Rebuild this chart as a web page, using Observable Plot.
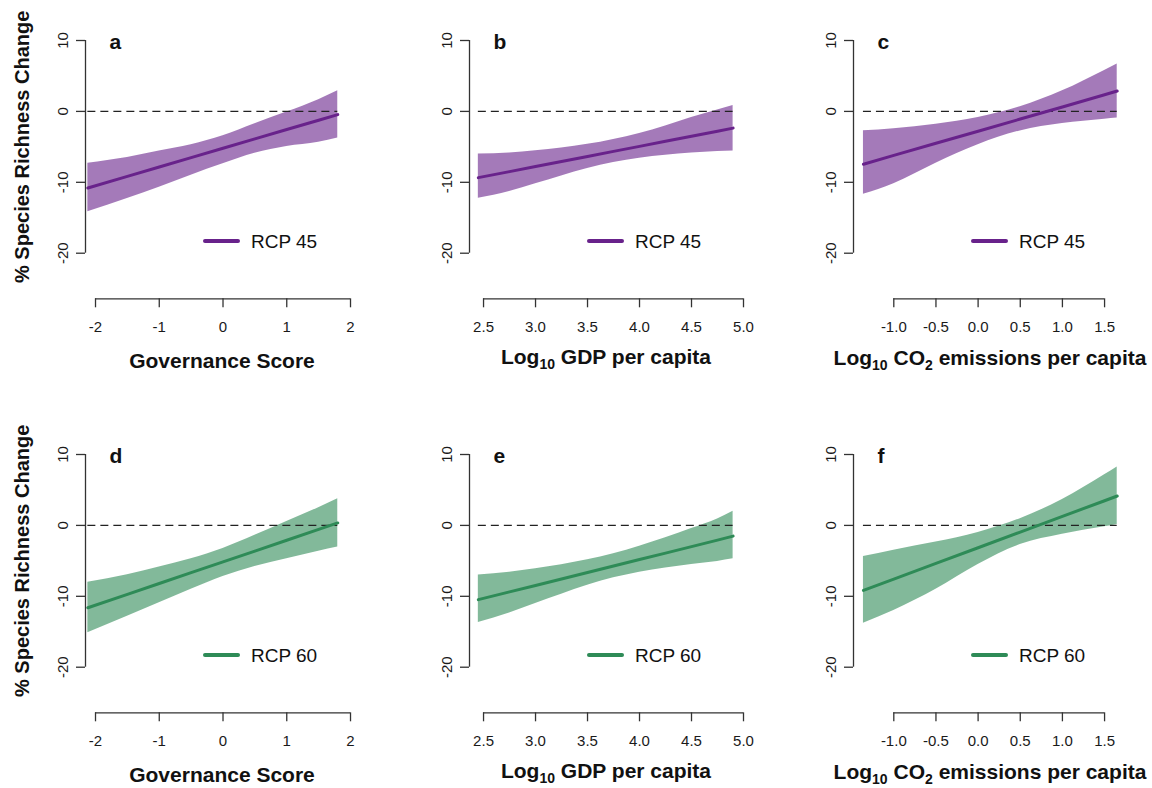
<!DOCTYPE html>
<html><head><meta charset="utf-8">
<script src="https://cdn.jsdelivr.net/npm/d3@7"></script>
<script src="https://cdn.jsdelivr.net/npm/@observablehq/plot@0.6"></script>
<style>
body{margin:0;background:#fff;overflow:hidden}
#fig{position:relative;width:1152px;height:788px;font-family:"Liberation Sans",Arial,Helvetica,sans-serif;background:#fff}
.panel{position:absolute}
</style></head><body><div id="fig"></div>
<script>
// ---------- data ----------
const yTicks = [-20, -10, 0, 10];
const govTicks = [-2, -1, 0, 1, 2];
const gdpTicks = [2.5, 3.0, 3.5, 4.0, 4.5, 5.0];
const co2Ticks = [-1.0, -0.5, 0.0, 0.5, 1.0, 1.5];

const govX = [-2.12, -1.5, -1, -0.5, 0, 0.5, 1, 1.5, 1.8];
const gdpX = [2.45, 2.75, 3.0, 3.25, 3.5, 3.75, 4.0, 4.25, 4.5, 4.75, 4.9];
const co2X = [-1.36, -1.0, -0.5, 0, 0.5, 1.0, 1.5, 1.65];

// RCP 4.5
const rcp45GovFit = [-10.80, -9.16, -7.84, -6.52, -5.20, -3.88, -2.56, -1.24, -0.45];
const rcp45GovLo  = [-14.15, -12.30, -10.70, -9.00, -7.40, -5.90, -4.95, -4.35, -3.75];
const rcp45GovHi  = [-7.30, -6.50, -5.60, -4.70, -3.45, -1.75, -0.10, 1.65, 2.90];

const rcp45GdpFit = [-9.34, -8.49, -7.78, -7.07, -6.35, -5.64, -4.93, -4.22, -3.50, -2.79, -2.36];
const rcp45GdpLo  = [-12.26, -11.30, -10.20, -9.10, -8.05, -7.20, -6.60, -6.18, -5.88, -5.64, -5.57];
const rcp45GdpHi  = [-6.00, -5.85, -5.55, -5.15, -4.65, -3.95, -3.10, -2.05, -0.85, 0.20, 0.85];

const rcp45Co2Fit = [-7.45, -6.21, -4.50, -2.79, -1.08, 0.63, 2.34, 2.87];
const rcp45Co2Lo  = [-11.70, -10.20, -7.30, -4.70, -2.75, -1.72, -1.10, -0.94];
const rcp45Co2Hi  = [-2.74, -2.45, -1.80, -0.85, 0.65, 2.90, 5.77, 6.70];

// RCP 6.0
const rcp60GovFit = [-11.61, -9.72, -8.19, -6.67, -5.14, -3.62, -2.09, -0.57, 0.35];
const rcp60GovLo  = [-15.15, -12.80, -10.90, -9.00, -7.20, -5.80, -4.70, -3.65, -3.06];
const rcp60GovHi  = [-8.00, -6.95, -5.85, -4.70, -3.25, -1.40, 0.55, 2.50, 3.76];

const rcp60GdpFit = [-10.47, -9.38, -8.47, -7.56, -6.64, -5.73, -4.82, -3.91, -2.99, -2.08, -1.51];
const rcp60GdpLo  = [-13.68, -12.35, -11.00, -9.70, -8.45, -7.40, -6.60, -6.00, -5.50, -5.08, -4.72];
const rcp60GdpHi  = [-6.98, -6.60, -6.10, -5.55, -4.85, -4.00, -2.95, -1.75, -0.45, 0.92, 1.98];

const rcp60Co2Fit = [-9.17, -7.57, -5.36, -3.15, -0.94, 1.27, 3.48, 4.15];
const rcp60Co2Lo  = [-13.80, -12.00, -9.00, -5.50, -2.70, -1.25, -0.20, 0.12];
const rcp60Co2Hi  = [-4.40, -3.50, -2.35, -1.00, 0.95, 3.65, 7.13, 8.23];

const scenarios = ["RCP 45", "RCP 60"];
const letters = ["a", "b", "c", "d", "e", "f"];
const yTitle = "% Species Richness Change";
// ---------- layout / style ----------
const purple = "#68228B", green = "#2E8B57";
const scenColor = [purple, green];
const W = 384, rowTop = [0, 414], rowH = [414, 374];
const mL = 85, mR = 25, mT = 40, axisPx = 298.3;
const yDomain = [-26.43, 10];

const cols = [
  {domain: [-2.157, 2.141], ticks: govTicks, fmt: d => String(d), xs: govX,
   title: [["Governance Score"]], titleY: 368},
  {domain: [2.365, 5.0], ticks: gdpTicks, fmt: d => d.toFixed(1), xs: gdpX,
   title: [["Log"], ["10", 1], [" GDP per capita"]], titleY: 364},
  {domain: [-1.478, 1.772], ticks: co2Ticks, fmt: d => d.toFixed(1), xs: co2X,
   title: [["Log"], ["10", 1], [" CO"], ["2", 1], [" emissions per capita"]], titleY: 365}
];
const series = [
  [[rcp45GovFit, rcp45GovLo, rcp45GovHi], [rcp45GdpFit, rcp45GdpLo, rcp45GdpHi], [rcp45Co2Fit, rcp45Co2Lo, rcp45Co2Hi]],
  [[rcp60GovFit, rcp60GovLo, rcp60GovHi], [rcp60GdpFit, rcp60GdpLo, rcp60GdpHi], [rcp60Co2Fit, rcp60Co2Lo, rcp60Co2Hi]]
];

const fig = document.getElementById("fig");
for (let r = 0; r < 2; r++) {
  for (let c = 0; c < 3; c++) {
    const col = cols[c];
    const [fit, lo, hi] = series[r][c];
    const rows = col.xs.map((x, i) => ({x, fit: fit[i], lo: lo[i], hi: hi[i]}));
    const color = scenColor[r];
    const h = rowH[r];
    const marks = [
      Plot.areaY(rows, {x: "x", y1: "lo", y2: "hi", fill: color, fillOpacity: 0.6, curve: "monotone-x"}),
      Plot.ruleY([0], {x1: col.xs[0], x2: col.xs[col.xs.length - 1], stroke: "#222", strokeWidth: 1.3, strokeDasharray: "8,5"}),
      Plot.lineY(rows, {x: "x", y: "fit", stroke: color, strokeWidth: 3}),
      Plot.ruleX([col.domain[0]], {y1: yTicks[0], y2: yTicks[yTicks.length - 1], stroke: "#333", strokeWidth: 1.3}),
      Plot.axisY({ticks: yTicks, tickSize: 9, tickRotate: -90, tickPadding: 9, tickFormat: d => String(d),
                  fontSize: 15, label: null, stroke: "#333", strokeWidth: 1.3}),
      Plot.ruleY([yDomain[0]], {x1: col.ticks[0], x2: col.ticks[col.ticks.length - 1], stroke: "#333", strokeWidth: 1.3}),
      Plot.axisX({ticks: col.ticks, tickSize: 9, tickPadding: 14, tickFormat: col.fmt,
                  fontSize: 15, label: null, stroke: "#333", strokeWidth: 1.3}),
      Plot.text([letters[r * 3 + c]], {text: d => d, frameAnchor: "top-left", dx: 24, dy: 8,
                  lineAnchor: "bottom", textAnchor: "start", fontWeight: "bold", fontSize: 21, fill: "#111"})
    ];
    if (c === 0) {
      marks.push(Plot.text([yTitle], {text: d => d, frameAnchor: "left", y: () => -5, dx: -63, rotate: -90,
                  lineAnchor: "middle", textAnchor: "middle", fontWeight: "bold", fontSize: 20, fill: "#111"}));
    }
    const svgEl = Plot.plot({
      width: W, height: h,
      marginLeft: mL, marginRight: mR, marginTop: mT, marginBottom: h - axisPx,
      x: {domain: col.domain},
      y: {domain: yDomain},
      style: {fontFamily: '"Liberation Sans",Arial,sans-serif', fontSize: "15px", color: "#1a1a1a", background: "transparent", overflow: "visible"},
      marks
    });
    const svg = d3.select(svgEl);
    // x-axis title with subscripts
    const t = svg.append("text")
      .attr("x", (mL + (W - mR)) / 2).attr("y", col.titleY)
      .attr("text-anchor", "middle").attr("font-weight", "bold").attr("font-size", 21)
      .attr("fill", "#111").style("white-space", "pre");
    let shifted = false;
    col.title.forEach(([s, sub]) => {
      const ts = t.append("tspan").text(s);
      if (sub) { ts.attr("font-size", 14).attr("dy", shifted ? 0 : 5); shifted = true; }
      else if (shifted) { ts.attr("dy", -5); shifted = false; }
    });
    // legend
    const lg = svg.append("g");
    lg.append("line").attr("x1", 205).attr("x2", 238).attr("y1", 241).attr("y2", 241)
      .attr("stroke", color).attr("stroke-width", 4).attr("stroke-linecap", "round");
    lg.append("text").attr("x", 251).attr("y", 248).attr("font-size", 19).attr("fill", "#111")
      .attr("text-anchor", "start").text(scenarios[r]);
    const div = document.createElement("div");
    div.className = "panel";
    div.style.left = (c * W) + "px";
    div.style.top = rowTop[r] + "px";
    div.appendChild(svgEl);
    fig.appendChild(div);
  }
}
</script></body></html>
